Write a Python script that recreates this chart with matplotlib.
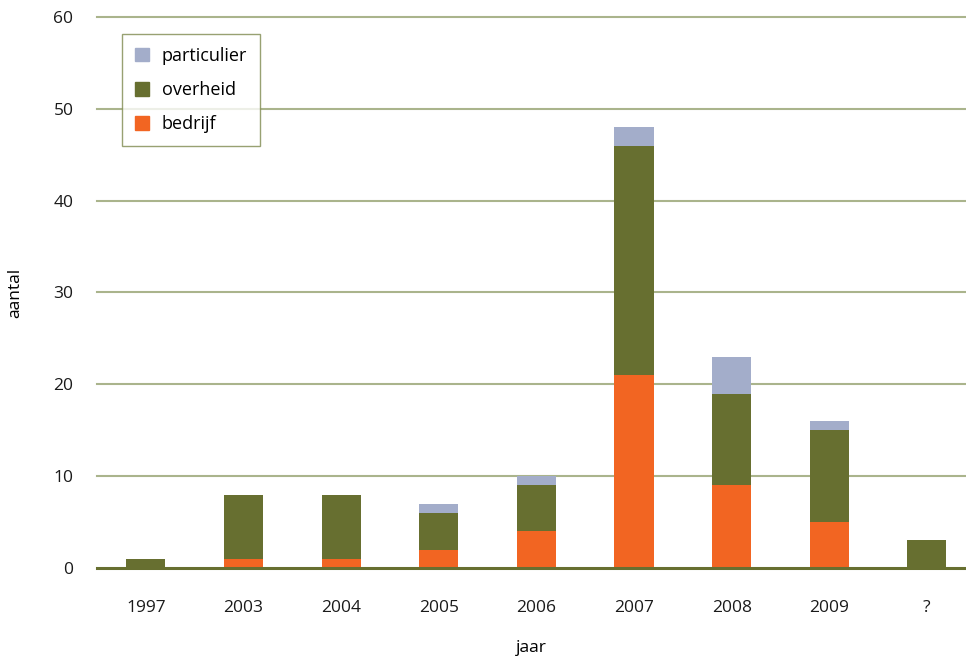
import matplotlib
matplotlib.use('Agg')
import matplotlib.pyplot as plt
import numpy as np
from matplotlib.patches import Patch

plt.rcParams['font.family'] = ['Open Sans', 'DejaVu Sans']

# ── Data ──────────────────────────────────────────────────────────────────────
jaren       = ['1997', '2003', '2004', '2005', '2006', '2007', '2008', '2009', '?']
bedrijf     = [0, 1, 1, 2, 4, 21, 9, 5, 0]
overheid    = [1, 7, 7, 4, 5, 25, 10, 10, 3]
particulier = [0, 0, 0, 1, 1, 2, 4, 1, 0]

C_PART = '#a3adca'
C_OVER = '#676f30'
C_BEDR = '#f26522'
C_GRID = '#aab48c'

x = np.arange(len(jaren))
bedrijf = np.array(bedrijf)
overheid = np.array(overheid)
particulier = np.array(particulier)

fig = plt.figure(figsize=(9.66, 6.57), dpi=100)
ax = fig.add_axes([0.1004, 0.1355, 0.8996, 0.8386])

w = 0.4
ax.bar(x, bedrijf, w, color=C_BEDR, zorder=2)
ax.bar(x, overheid, w, bottom=bedrijf, color=C_OVER, zorder=2)
ax.bar(x, particulier, w, bottom=bedrijf + overheid, color=C_PART, zorder=2)

ax.set_xlim(-0.5, 8.4)
ax.set_ylim(0, 60)
ax.set_yticks(range(0, 61, 10))
for yv in range(10, 61, 10):
    ax.axhline(yv, color=C_GRID, linewidth=1.5, zorder=0, clip_on=False)
ax.axhline(0, color=C_OVER, linewidth=2.2, zorder=3, clip_on=False)

for s in ax.spines.values():
    s.set_visible(False)
ax.tick_params(length=0, labelsize=12.5, colors='#1a1a1a')
ax.tick_params(axis='y', pad=17)
ax.tick_params(axis='x', pad=23)
ax.set_xticks(x)
ax.set_xticklabels(jaren)

ax.set_xlabel('jaar', fontsize=12.5, labelpad=17)
ax.set_ylabel('aantal', fontsize=12.5, labelpad=22)

handles = [Patch(color=C_PART, label='particulier'),
           Patch(color=C_OVER, label='overheid'),
           Patch(color=C_BEDR, label='bedrijf')]
leg = ax.legend(handles=handles, loc='upper left', bbox_to_anchor=(0.029, 0.969),
                fontsize=13, frameon=True, fancybox=False, handlelength=0.8,
                handleheight=0.8, labelspacing=0.9, borderpad=0.7,
                handletextpad=0.7, borderaxespad=0)
leg.get_frame().set_edgecolor('#7f8a4f')
leg.get_frame().set_linewidth(1.0)
leg.set_zorder(5)

plt.savefig('out.png', dpi=100)
plt.close(fig)
